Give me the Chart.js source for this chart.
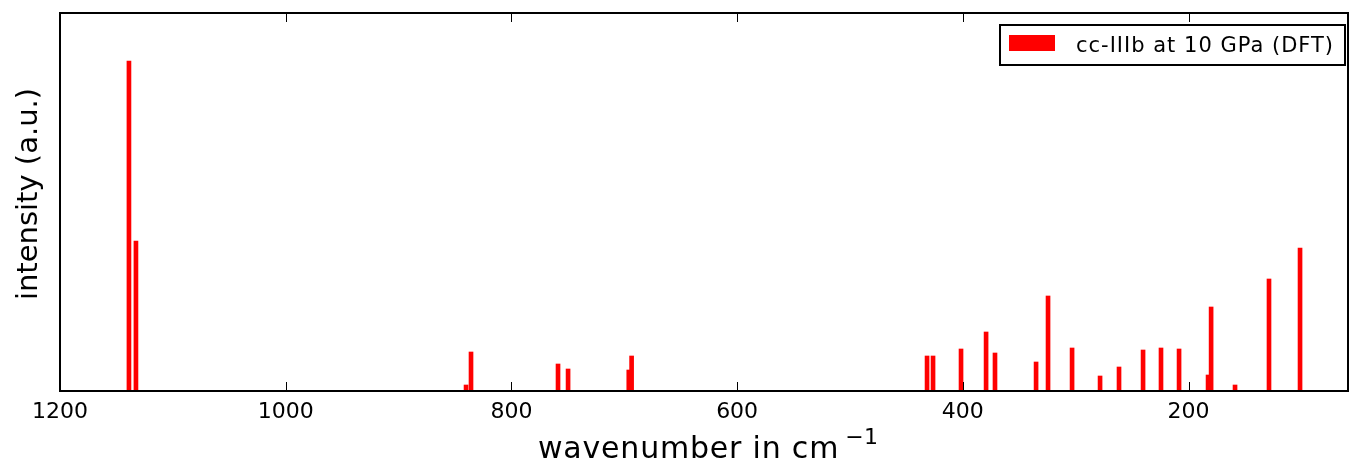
<!DOCTYPE html>
<html>
<head>
<meta charset="utf-8">
<script src="https://cdn.jsdelivr.net/npm/chart.js@4/dist/chart.umd.min.js"></script>
<style>
  html, body { margin: 0; padding: 0; background: #fff; }
  canvas { display: block; }
</style>
</head>
<body>
<canvas id="spectrum" width="1349" height="470"></canvas>
<script>
// peak positions (cm-1) and intensities (a.u.)
const wavenumbers = [1138.9, 1132.7, 840.2, 835.8, 758.7, 749.8, 696.0, 693.5,
  431.7, 426.4, 401.6, 379.4, 371.5, 335.1, 324.5, 303.2, 278.4, 261.6,
  240.3, 224.4, 208.4, 182.7, 180.0, 158.8, 128.7, 101.2];
const intensities = [330, 150, 6, 39, 27, 22, 21, 35,
  35, 35, 42, 59, 38, 29, 95, 43, 15, 24,
  41, 43, 42, 16, 84, 6, 112, 143];
const xTicks = [1200, 1000, 800, 600, 400, 200];
const seriesLabel = 'cc-IIIb at 10 GPa (DFT)';

const FONT = "'DejaVu Sans', sans-serif";

// frame, inward ticks, axis titles and legend box, matplotlib style
const decorations = {
  id: 'decorations',
  afterDraw(chart) {
    const ctx = chart.ctx;
    const area = chart.chartArea;
    const xs = chart.scales.x;
    ctx.save();

    // ticks pointing into the plot, top and bottom
    ctx.strokeStyle = '#000';
    ctx.lineWidth = 1;
    xs.ticks.forEach(t => {
      const px = Math.round(xs.getPixelForValue(t.value)) + 0.5;
      ctx.beginPath();
      ctx.moveTo(px, area.bottom);
      ctx.lineTo(px, area.bottom - 9);
      ctx.moveTo(px, area.top);
      ctx.lineTo(px, area.top + 9);
      ctx.stroke();
    });

    // frame
    ctx.lineWidth = 2;
    ctx.strokeRect(area.left, area.top, area.right - area.left, area.bottom - area.top);

    // x title with superscript
    ctx.fillStyle = '#000';
    ctx.textAlign = 'left';
    ctx.textBaseline = 'alphabetic';
    ctx.font = '30px ' + FONT;
    ctx.letterSpacing = '0.8px';
    const main = 'wavenumber in cm';
    ctx.fillText(main, 538, 458);
    const w = ctx.measureText(main).width;
    ctx.font = '22px ' + FONT;
    ctx.letterSpacing = '0.5px';
    ctx.fillText('\u22121', 538 + w + 6, 444);

    // y title
    ctx.save();
    ctx.translate(29, 194);
    ctx.rotate(-Math.PI / 2);
    ctx.textAlign = 'center';
    ctx.textBaseline = 'middle';
    ctx.font = '29px ' + FONT;
    ctx.letterSpacing = '0px';
    ctx.fillText('intensity (a.u.)', 0, 0);
    ctx.restore();

    // legend
    const ds = chart.data.datasets[0];
    ctx.fillStyle = '#fff';
    ctx.fillRect(1000, 25, 345, 40);
    ctx.lineWidth = 2;
    ctx.strokeStyle = '#000';
    ctx.strokeRect(1000, 25, 345, 40);
    ctx.fillStyle = ds.backgroundColor;
    ctx.fillRect(1009, 35, 46, 16);
    ctx.fillStyle = '#000';
    ctx.font = '21px ' + FONT;
    ctx.letterSpacing = '1px';
    ctx.textAlign = 'left';
    ctx.textBaseline = 'alphabetic';
    ctx.fillText(ds.label, 1076, 52);

    ctx.restore();
  }
};

new Chart(document.getElementById('spectrum'), {
  type: 'bar',
  data: {
    datasets: [{
      label: seriesLabel,
      data: wavenumbers.map((x, i) => ({ x: x, y: intensities[i] })),
      backgroundColor: '#ff0000',
      borderWidth: 0,
      barThickness: 4,
      grouped: false
    }]
  },
  options: {
    responsive: false,
    animation: false,
    devicePixelRatio: 1,
    layout: { padding: { top: 13, right: 1, left: 0, bottom: 0 } },
    plugins: {
      legend: { display: false },
      tooltip: { enabled: false }
    },
    scales: {
      x: {
        type: 'linear',
        reverse: true,
        offset: false,
        min: 58.7,
        max: 1200,
        afterBuildTicks: scale => { scale.ticks = xTicks.map(v => ({ value: v })); },
        ticks: {
          color: '#000',
          font: { family: FONT, size: 22 },
          padding: 8,
          maxRotation: 0,
          autoSkip: false,
          callback: v => String(v)
        },
        grid: { display: false, drawTicks: false, offset: false },
        border: { display: false },
        afterFit: scale => { scale.height = 79; }
      },
      y: {
        min: 0,
        max: 378,
        ticks: { display: false },
        grid: { display: false, drawTicks: false },
        border: { display: false },
        afterFit: scale => { scale.width = 60; }
      }
    }
  },
  plugins: [decorations]
});
</script>
</body>
</html>
